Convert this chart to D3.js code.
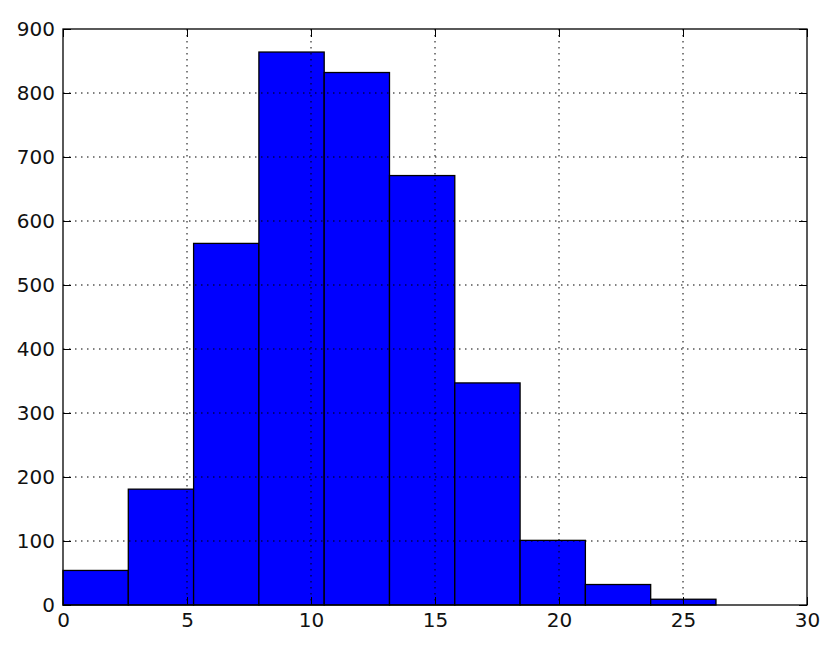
<!DOCTYPE html>
<html>
<head>
<meta charset="utf-8">
<script src="https://cdn.jsdelivr.net/npm/d3@7"></script>
<style>
  body { margin: 0; background: #fff; }
  svg { display: block; }
  .tick text { font-family: "DejaVu Sans", sans-serif; font-size: 20px; fill: #111; }
</style>
</head>
<body>
<div id="chart"></div>
<script>
// Histogram data (bin edges and counts)
var binEdges = [0, 2.633, 5.266, 7.899, 10.532, 13.165, 15.798, 18.431, 21.064, 23.697, 26.33];
var counts = [54, 181, 565, 864, 832, 671, 347, 101, 32, 9];
var xTicks = [0, 5, 10, 15, 20, 25, 30];
var yTicks = [0, 100, 200, 300, 400, 500, 600, 700, 800, 900];

var w = 838, h = 648;
var margin = { top: 29, right: 31, bottom: 43, left: 63 };
var iw = w - margin.left - margin.right;
var ih = h - margin.top - margin.bottom;

var svg = d3.select("#chart").append("svg")
    .attr("width", w)
    .attr("height", h);

var g = svg.append("g")
    .attr("transform", "translate(" + margin.left + "," + margin.top + ")");

var x = d3.scaleLinear().domain([0, 30]).range([0, iw]);
var y = d3.scaleLinear().domain([0, 900]).range([ih, 0]);

var bins = counts.map(function(c, i) {
    return { x0: binEdges[i], x1: binEdges[i + 1], n: c };
});

// bars
g.selectAll("rect.bar")
    .data(bins)
    .enter()
    .append("rect")
    .attr("class", "bar")
    .attr("x", function(d) { return x(d.x0); })
    .attr("y", function(d) { return y(d.n); })
    .attr("width", function(d) { return x(d.x1) - x(d.x0); })
    .attr("height", function(d) { return ih - y(d.n); })
    .attr("fill", "#0000ff")
    .attr("stroke", "#000")
    .attr("stroke-width", 1.3);

// dotted grid over bars
g.append("g")
    .selectAll("line")
    .data(xTicks.slice(1, -1))
    .enter()
    .append("line")
    .attr("x1", function(d) { return x(d); })
    .attr("x2", function(d) { return x(d); })
    .attr("y1", 0)
    .attr("y2", ih)
    .attr("stroke", "#000")
    .attr("stroke-width", 1)
    .attr("stroke-dasharray", "1.5,4.5");

g.append("g")
    .selectAll("line")
    .data(yTicks.slice(1, -1))
    .enter()
    .append("line")
    .attr("x1", 0)
    .attr("x2", iw)
    .attr("y1", function(d) { return y(d); })
    .attr("y2", function(d) { return y(d); })
    .attr("stroke", "#000")
    .attr("stroke-width", 1)
    .attr("stroke-dasharray", "1.5,4.5");

// axes (ticks pointing inward, matplotlib classic style)
g.append("g")
    .attr("transform", "translate(0," + ih + ")")
    .call(d3.axisBottom(x).tickValues(xTicks).tickSize(-8).tickPadding(8).tickFormat(d3.format("d")));

g.append("g")
    .call(d3.axisLeft(y).tickValues(yTicks).tickSize(-8).tickPadding(8).tickFormat(d3.format("d")));

g.append("g")
    .call(d3.axisTop(x).tickValues(xTicks).tickSize(-8).tickFormat(""));

g.append("g")
    .attr("transform", "translate(" + iw + ",0)")
    .call(d3.axisRight(y).tickValues(yTicks).tickSize(-8).tickFormat(""));

g.selectAll(".domain").remove();
g.selectAll(".tick line").attr("stroke", "#000").attr("stroke-width", 1);

// frame
g.append("rect")
    .attr("x", 0)
    .attr("y", 0)
    .attr("width", iw)
    .attr("height", ih)
    .attr("fill", "none")
    .attr("stroke", "#000")
    .attr("stroke-width", 1.3);
</script>
</body>
</html>
